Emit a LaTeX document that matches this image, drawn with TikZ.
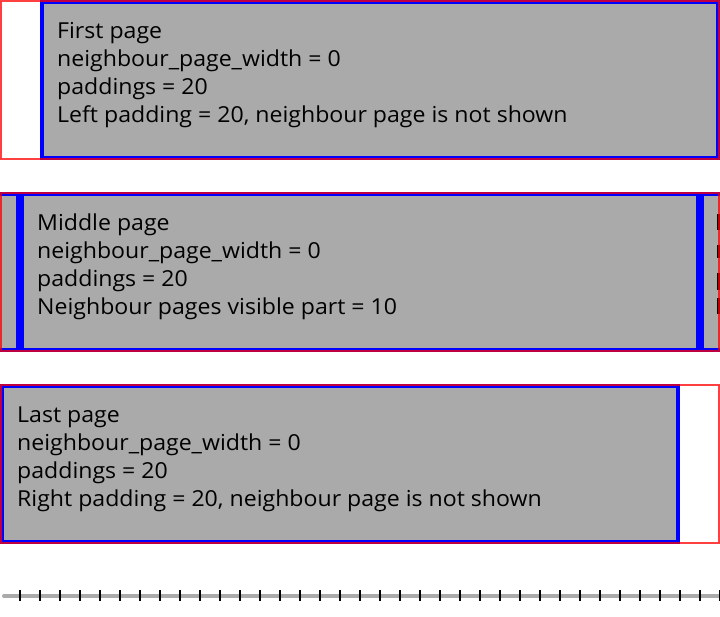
\documentclass[tikz,border=0pt]{standalone}
\usepackage{fontspec}
\setmainfont[FakeStretch=1.05]{Open Sans}
\usetikzlibrary{calc}
\definecolor{pagegray}{RGB}{170,170,170}
\definecolor{pageblue}{RGB}{0,0,255}
\definecolor{framered}{RGB}{255,0,0}
\tikzset{
  pagefill/.style={fill=pagegray},
  pageedge/.style={draw=pageblue, line width=4pt},
  viewport/.style={draw=framered, draw opacity=0.75, line width=2pt},
  pageline/.style={anchor=base west, inner sep=0pt, font=\fontsize{22}{28}\selectfont},
  glyphedge/.style={fill=black},
  rulerline/.style={draw=pagegray, line width=4pt, line cap=round},
  rulertick/.style={draw=black, line width=2pt},
}
% bare page card: grey 680x160 with an inner blue edge
\newcommand{\pagecard}[2]{%
  \fill[pagefill] (#1,#2) rectangle ++(680,160);
  \draw[pageedge] ($(#1,#2)+(2,2)$) rectangle ($(#1,#2)+(678,158)$);
}
% page card with its four text lines
\newcommand{\carouselpage}[5]{%
  \pagecard{#1}{#2}
  \node[pageline] (#3-a) at ($(#1,#2)+(17,38)$) {#4};
  \node[pageline] (#3-b) at ($(#1,#2)+(17,66)$) {neighbour\_page\_width = 0};
  \node[pageline] (#3-c) at ($(#1,#2)+(17,94)$) {paddings = 20};
  \node[pageline] (#3-d) at ($(#1,#2)+(17,122)$) {#5};
}
\begin{document}
\begin{tikzpicture}[x=1pt, y=-1pt]
  \useasboundingbox (0,0) rectangle (720,616);

  % first page: shifted right by the left padding
  \begin{scope}
    \clip (0,0) rectangle (720,160);
    \carouselpage{40}{0}{first}{First page}{Left padding = 20, neighbour page is not shown}
  \end{scope}
  \draw[viewport] (1,1) rectangle (719,159);

  % middle page with both neighbours peeking in
  \begin{scope}
    \clip (0,192) rectangle (720,352);
    \pagecard{-660}{192}
    \carouselpage{20}{192}{middle}{Middle page}{Neighbour pages visible part = 10}
    \pagecard{700}{192}
    % left stems of the next page's first letters
    \fill[glyphedge] (717.2,213.5) rectangle (720,230);
    \fill[glyphedge] (717.2,245) rectangle (720,258);
    \fill[glyphedge] (717.2,273) rectangle (720,290);
    \fill[glyphedge] (717.2,297.5) rectangle (720,314);
  \end{scope}
  \draw[viewport] (1,193) rectangle (719,351);

  % last page: flush left, right padding left empty
  \begin{scope}
    \clip (0,384) rectangle (720,544);
    \carouselpage{0}{384}{last}{Last page}{Right padding = 20, neighbour page is not shown}
  \end{scope}
  \draw[viewport] (1,385) rectangle (719,543);

  % ruler with a tick every 20 units
  \coordinate (rulerstart) at (4,596);
  \coordinate (rulerend) at (722,596);
  \draw[rulerline] (rulerstart) -- (rulerend);
  \foreach \i in {1,...,36}
    \draw[rulertick] (20*\i,590) -- (20*\i,601);
\end{tikzpicture}
\end{document}
